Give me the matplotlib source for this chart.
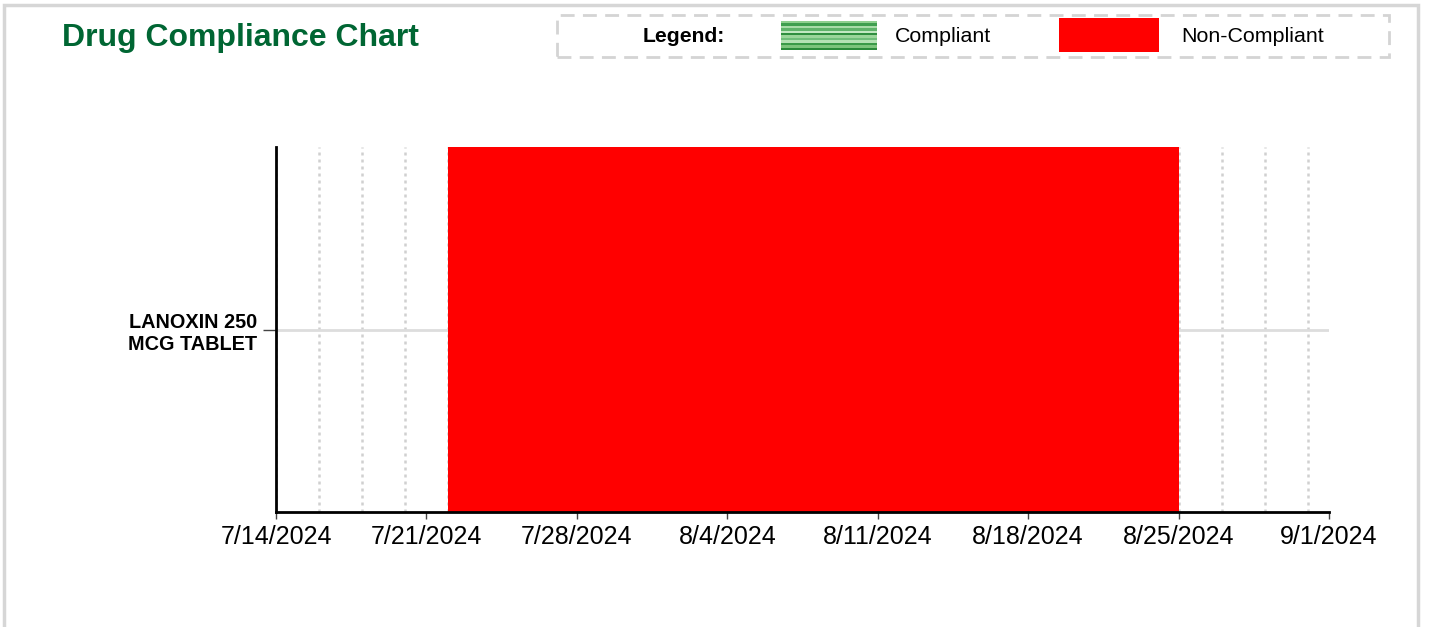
import datetime as dt
import matplotlib
matplotlib.use("Agg")
import matplotlib.pyplot as plt
import matplotlib.dates as mdates
from matplotlib.patches import Rectangle

plt.rcParams['font.family'] = ['Liberation Sans', 'DejaVu Sans']

# data
drugs = ["LANOXIN 250\nMCG TABLET"]
noncompliant_start = [dt.date(2024, 7, 22)]
noncompliant_end = [dt.date(2024, 8, 25)]
x_start = dt.date(2024, 7, 14)
x_end = dt.date(2024, 9, 1)

W, H = 1429, 627
fig = plt.figure(figsize=(W / 100, H / 100), dpi=100)


def fx(px):
    return px / W


def fy(py):
    return 1 - py / H


ax = fig.add_axes([fx(276), fy(512), fx(1329 - 276), (512 - 147) / H])

# grid first so the bar covers it
day = x_start
while day <= x_end:
    ax.axvline(mdates.date2num(day), color="#d0d0d0", lw=1.8,
               ls=(0, (1.2, 1.6)), zorder=0)
    day += dt.timedelta(days=2)
ax.axhline(0, color="#dddddd", lw=2, zorder=0)

for i, name in enumerate(drugs):
    left = mdates.date2num(noncompliant_start[i])
    width = mdates.date2num(noncompliant_end[i]) - left
    ax.barh(i, width, left=left, height=1.0, color="#ff0000", zorder=2)

ax.set_xlim(mdates.date2num(x_start), mdates.date2num(x_end))
ax.set_ylim(-0.5, 0.5)
tick_days = [x_start + dt.timedelta(days=7 * k) for k in range(8)]
ax.set_xticks([mdates.date2num(d) for d in tick_days])
ax.set_xticklabels([f"{d.month}/{d.day}/{d.year}" for d in tick_days],
                   fontsize=18)
ax.set_yticks(range(len(drugs)))
ax.set_yticklabels(drugs, fontsize=14.3, fontweight="bold", linespacing=1.25)
ax.tick_params(axis="y", length=9.4, width=1, color="#444444", pad=4.3)
ax.tick_params(axis="x", length=5, width=1, color="#444444", pad=4)

for s in ["top", "right"]:
    ax.spines[s].set_visible(False)
for s in ["left", "bottom"]:
    ax.spines[s].set_linewidth(2)
    ax.spines[s].set_color("black")
    ax.spines[s].set_zorder(3)

# title
fig.text(fx(62), fy(38), "Drug Compliance Chart", fontsize=23,
         fontweight="bold", color="#006633", va="center", ha="left")

# legend box
fig.add_artist(Rectangle((fx(557), fy(57)), fx(1389 - 557), (57 - 15) / H,
                         transform=fig.transFigure, fill=False,
                         edgecolor="#d4d4d4", lw=2, ls=(0, (5, 3))))
fig.text(fx(643), fy(36), "Legend:", fontsize=15.2, fontweight="bold",
         va="center", ha="left")
stripe_cols = ["#8fcf8f", "#3f9f4f", "#a8dca8", "#5fb36a", "#c2e8c2",
               "#2f8f3f", "#9ad69a", "#6fbf7a", "#b5e2b5", "#3a9a48",
               "#7cc47c", "#2a8a3a"]
sh = (50 - 21) / len(stripe_cols)
for k, c in enumerate(stripe_cols):
    fig.add_artist(Rectangle((fx(781), fy(21 + sh * (k + 1))), fx(877 - 781),
                             sh / H, transform=fig.transFigure,
                             facecolor=c, edgecolor="none"))
fig.text(fx(895), fy(36), "Compliant", fontsize=15.4, va="center", ha="left")
fig.add_artist(Rectangle((fx(1059), fy(52)), fx(1159 - 1059), (52 - 18) / H,
                         transform=fig.transFigure, facecolor="#ff0000",
                         edgecolor="none"))
fig.text(fx(1181), fy(36), "Non-Compliant", fontsize=15.4, va="center",
         ha="left")

# outer frame
fig.add_artist(Rectangle((fx(4), -0.05), fx(1418 - 4), fy(5) + 0.05,
                         transform=fig.transFigure, fill=False,
                         edgecolor="#d6d6d6", lw=2.5))

fig.savefig("out.png", dpi=100)
